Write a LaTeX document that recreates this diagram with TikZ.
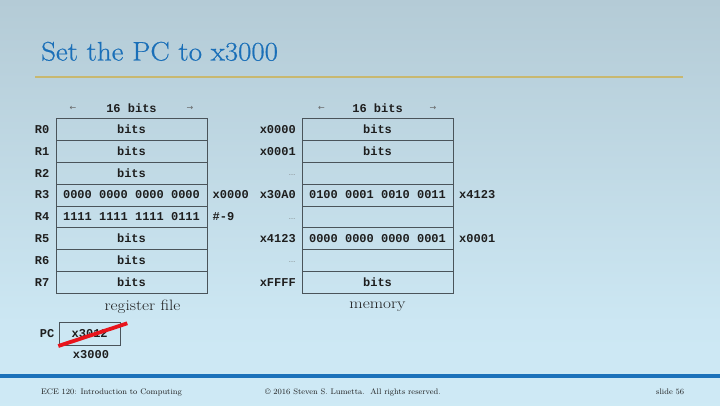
\documentclass[tikz,border=0pt]{standalone}
\usepackage{fontspec}
\newfontfamily\codefont{Liberation Mono}
\newfontfamily\symfont{DejaVu Sans}
\newfontfamily\headfont{Latin Modern Roman}[FakeBold=0.6]
\definecolor{bgtop}{HTML}{98ADB8}
\definecolor{bgupper}{HTML}{B4CBD6}
\definecolor{bglower}{HTML}{CCE7F3}
\definecolor{bgbot}{HTML}{D4F0FB}
\definecolor{titleblue}{HTML}{1A6FB8}
\definecolor{rulegold}{HTML}{C8B870}
\definecolor{barblue}{HTML}{1C72BA}
\definecolor{cellline}{HTML}{4A545A}
\definecolor{inkdark}{HTML}{1E1E1E}
\definecolor{strike}{HTML}{E8141C}
\pgfdeclareverticalshading{slidebg}{100bp}{color(0bp)=(bgbot); color(35bp)=(bglower); color(75bp)=(bgupper); color(100bp)=(bgtop)}
\newcommand{\widen}[2]{\scalebox{#1}[1]{#2}}
\tikzset{
  cell/.style={draw=cellline, line width=0.8pt, minimum width=151pt, minimum height=21.85pt,
    inner sep=0pt, font=\codefont\bfseries\fontsize{12}{14}\selectfont, text=inkdark},
  code/.style={inner sep=0pt, font=\codefont\bfseries\fontsize{12}{14}\selectfont, text=inkdark},
  gap/.style={inner sep=0pt, font=\symfont\fontsize{6.5}{7}\selectfont, text=black!55},
  arrowtxt/.style={inner sep=0pt, font=\symfont\fontsize{8}{9}\selectfont, text=black!60},
  caption/.style={inner sep=0pt, font=\fontsize{15}{17}\selectfont, text=inkdark},
  foot/.style={inner sep=0pt, anchor=west, font=\fontsize{8}{9}\selectfont, text=inkdark}
}
\begin{document}
\begin{tikzpicture}[x=1pt,y=-1pt]
% slide background, bars and title
\shade[shading=slidebg] (0,0) rectangle (720,405);
\useasboundingbox (0,0) rectangle (720,405);
\node[anchor=base west, inner sep=0pt, text=titleblue, font=\headfont\fontsize{26.8}{30}\selectfont] (title) at (41,60.5) {\widen{1.08}{Set the PC to x3000}};
\fill[rulegold] (35,75.5) rectangle (683,78);
\fill[barblue] (0,374) rectangle (720,378);
\node[foot] (course) at (41,392) {ECE 120: Introduction to Computing};
\node[foot] (copy) at (265,392) {© 2016 Steven S. Lumetta.\ \ All rights reserved.};
\node[foot] (slideno) at (656,392) {slide 56};

% register file
\node[arrowtxt] (rla) at (73,108.5) {←};
\node[code] (rwidth) at (131.5,108.5) {16 bits};
\node[arrowtxt] (rra) at (190,108.5) {→};
\foreach \i/\v in {0/bits,1/bits,2/bits,3/0000 0000 0000 0000,4/1111 1111 1111 0111,5/bits,6/bits,7/bits}{
  \node[cell] (reg\i) at (131.5,{118.5+21.85*(\i+0.5)}) {\v};
  \node[code, anchor=east] (rname\i) at (49.5,{118.5+21.85*(\i+0.5)}) {R\i};
}
\node[code, anchor=west] (r3val) at (212.5,{118.5+21.85*3.5}) {x0000};
\node[code, anchor=west] (r4val) at (212.5,{118.5+21.85*4.5}) {\#-9};
\node[caption] (regcap) at (142.5,307) {\widen{1.15}{register file}};

% memory
\node[arrowtxt] (mla) at (321.5,108.5) {←};
\node[code] (mwidth) at (377.5,108.5) {16 bits};
\node[arrowtxt] (mra) at (433,108.5) {→};
\foreach \i/\v in {0/bits,1/bits,2/{},3/0100 0001 0010 0011,4/{},5/0000 0000 0000 0001,6/{},7/bits}{
  \node[cell] (mem\i) at (377.5,{118.5+21.85*(\i+0.5)}) {\v};
}
\foreach \i/\a in {0/x0000,1/x0001,3/x30A0,5/x4123,7/xFFFF}{
  \node[code, anchor=east] (maddr\i) at (296,{118.5+21.85*(\i+0.5)}) {\a};
}
\foreach \i in {2,4,6}{
  \node[gap, anchor=east] (mskip\i) at (295.5,{118.5+21.85*(\i+0.5)+2}) {…};
}
\node[code, anchor=west] (m3val) at (459,{118.5+21.85*3.5}) {x4123};
\node[code, anchor=west] (m5val) at (459,{118.5+21.85*5.5}) {x0001};
\node[caption] (memcap) at (377.5,307) {\widen{1.15}{memory}};

% program counter
\node[code, anchor=east] (pclabel) at (54.5,333.5) {PC};
\node[cell, minimum width=60.7pt, minimum height=22.3pt] (pc) at (89.7,333.8) {x3012};
\coordinate (cutA) at (58.3,346);
\coordinate (cutB) at (127.3,323.3);
\draw[strike, line width=3.8pt] (cutA) -- (cutB);
\node[code] (pcnew) at (91,354.5) {x3000};
\end{tikzpicture}
\end{document}
